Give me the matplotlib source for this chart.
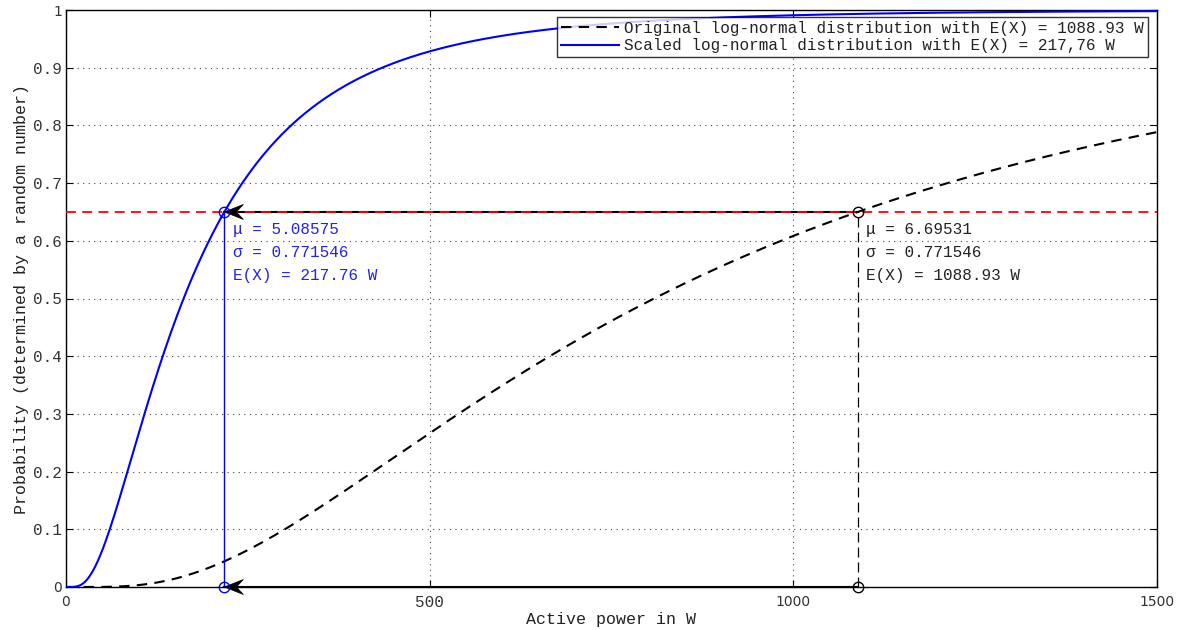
import math
import numpy as np
import matplotlib
matplotlib.use("Agg")
import matplotlib.pyplot as plt
import matplotlib.transforms as mtransforms
from matplotlib.patches import Polygon

# Log-normal parameters of the two distributions
mu_orig = 6.69531
mu_scaled = 5.08575
sigma = 0.771546
ex_orig = 1088.93
ex_scaled = 217.76
prob_level = 0.65

x_ticks = [0, 500, 1000, 1500]
x_tick_labels = ["0", "500", "1000", "1500"]
y_ticks = [0, 0.1, 0.2, 0.3, 0.4, 0.5, 0.6, 0.7, 0.8, 0.9, 1]
y_tick_labels = ["0", "0.1", "0.2", "0.3", "0.4", "0.5", "0.6", "0.7", "0.8", "0.9", "1"]

legend_labels = ["Original log-normal distribution with E(X) = 1088.93 W",
                 "Scaled log-normal distribution with E(X) = 217,76 W"]

MONO = "Liberation Mono"
SANS = "DejaVu Sans"


def lognorm_cdf(x, mu, s):
    out = np.zeros_like(x)
    pos = x > 0
    z = (np.log(x[pos]) - mu) / (s * math.sqrt(2.0))
    out[pos] = 0.5 * (1.0 + np.array([math.erf(v) for v in z]))
    return out


xs = np.linspace(0, 1500, 1501)
cdf_orig = lognorm_cdf(xs, mu_orig, sigma)
cdf_scaled = lognorm_cdf(xs, mu_scaled, sigma)

fig = plt.figure(figsize=(11.89, 6.30), dpi=100)
ax = fig.add_axes([66 / 1189, 43 / 630, (1157 - 66) / 1189, (587 - 10) / 630])

ax.set_xlim(0, 1500)
ax.set_ylim(0, 1)

# grid
ax.set_xticks(x_ticks)
ax.set_yticks(y_ticks)
ax.grid(True, linestyle=(0, (1, 4)), color="#444444", linewidth=0.8)
ax.set_axisbelow(True)

# horizontal arrows (drawn under the red reference line)
ax.plot([ex_scaled, ex_orig], [prob_level, prob_level], color="black", lw=1.5, zorder=3)
ax.plot([ex_scaled, ex_orig], [0, 0], color="black", lw=1.5, zorder=3, clip_on=False)

# curves
l1, = ax.plot(xs, cdf_orig, color="black", lw=1.5, linestyle=(0, (5, 3.5)), zorder=4)
l2, = ax.plot(xs, cdf_scaled, color="#0000ff", lw=1.5, zorder=4)

# reference probability level
ax.axhline(prob_level, color="#ff0000", lw=1.3, linestyle=(0, (5.5, 3.5)), zorder=3.5)

# vertical drop lines
ax.plot([ex_scaled, ex_scaled], [0, prob_level], color="#0000ff", lw=1.0, zorder=4)
ax.plot([ex_orig, ex_orig], [0, prob_level], color="black", lw=0.9,
        linestyle=(0, (8, 4)), zorder=4)


# arrowheads pointing left at the scaled mean
def arrow_head(x, y):
    trans = fig.dpi_scale_trans + mtransforms.ScaledTranslation(x, y, ax.transData)
    L, W, N = 0.19, 0.075, 0.12
    verts = [(0, 0), (L, W), (N, 0), (L, -W)]
    ax.add_patch(Polygon(verts, closed=True, transform=trans, facecolor="black",
                         edgecolor="black", lw=0.5, zorder=6, clip_on=False))


arrow_head(ex_scaled, prob_level)
arrow_head(ex_scaled, 0)

# circle markers
ax.plot([ex_scaled, ex_scaled], [prob_level, 0], linestyle="none", marker="o",
        ms=7.5, mfc="none", mec="#0000ff", mew=1.0, zorder=7, clip_on=False)
ax.plot([ex_orig, ex_orig], [prob_level, 0], linestyle="none", marker="o",
        ms=7.5, mfc="none", mec="black", mew=1.0, zorder=7, clip_on=False)

# parameter annotations
blue_lines = ["\u03bc = %.5f" % mu_scaled, "\u03c3 = %.6f" % sigma, "E(X) = %.2f W" % ex_scaled]
black_lines = ["\u03bc = %.5f" % mu_orig, "\u03c3 = %.6f" % sigma, "E(X) = %.2f W" % ex_orig]
for i, (tb, tk) in enumerate(zip(blue_lines, black_lines)):
    yy = prob_level - (18 + 23 * i) / 577.0
    ax.text(ex_scaled + 12.5, yy, tb, color="#2222ee", fontsize=11.5, family=MONO,
            va="center", ha="left", zorder=8)
    ax.text(ex_orig + 11, yy, tk, color="#222222", fontsize=11.5, family=MONO,
            va="center", ha="left", zorder=8)

# ticks
ax.tick_params(direction="in", top=True, right=True, length=5, width=0.8,
               colors="black", labelcolor="#333333")
ax.set_xticklabels(x_tick_labels)
ax.set_yticklabels(y_tick_labels)
for lab in ax.get_xticklabels():
    if lab.get_text() == "500":
        lab.set_fontfamily(MONO)
        lab.set_fontsize(11.5)
    else:
        lab.set_fontfamily(SANS)
        lab.set_fontsize(10)
for lab in ax.get_yticklabels():
    if "." in lab.get_text():
        lab.set_fontfamily(MONO)
        lab.set_fontsize(11.5)
    else:
        lab.set_fontfamily(SANS)
        lab.set_fontsize(10)
ax.tick_params(axis="x", pad=6)
ax.tick_params(axis="y", pad=3)

for sp in ax.spines.values():
    sp.set_linewidth(1.0)
    sp.set_color("black")

ax.set_xlabel("Active power in W", family=MONO, fontsize=12, color="#222222", labelpad=1)
ax.set_ylabel("Probability (determined by a random number)", family=MONO, fontsize=12,
              color="#222222", labelpad=3)

leg = ax.legend([l1, l2], legend_labels, loc="upper right",
                bbox_to_anchor=(1 - 9 / 1091, 1 - 7 / 577), borderaxespad=0,
                prop={"family": MONO, "size": 11.5}, frameon=True, fancybox=False,
                handlelength=3.6, handletextpad=0.35, borderpad=0.25, labelspacing=0.15)
leg.get_frame().set_edgecolor("black")
leg.get_frame().set_linewidth(1.0)
for t in leg.get_texts():
    t.set_color("#222222")
leg.set_zorder(10)

fig.savefig("out.png", dpi=100)
